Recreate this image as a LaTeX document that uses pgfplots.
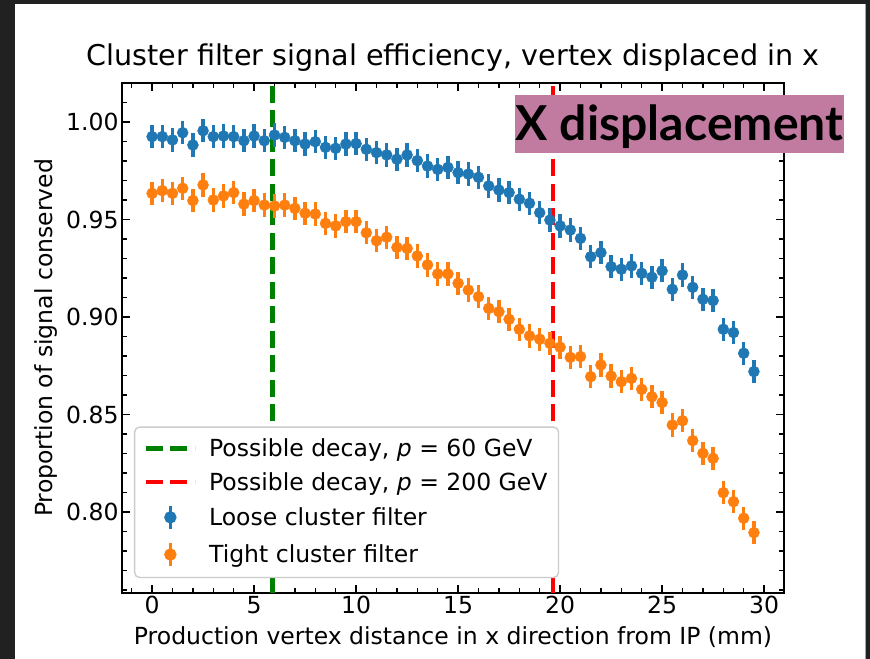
\documentclass[border=0pt]{standalone}
\usepackage{pgfplots}
\pgfplotsset{compat=1.18}
\usepackage{pgfplotstable}
\usepackage{fontspec}
\setmainfont{DejaVu Sans}
\newfontfamily\lato{Lato}

\definecolor{mplblue}{HTML}{1F77B4}
\definecolor{mplorange}{HTML}{FF7F0E}
\definecolor{mplgreen}{HTML}{008000}
\definecolor{mplred}{HTML}{FF0000}
\definecolor{tagpink}{HTML}{C27BA0}
\definecolor{darkframe}{HTML}{212121}
\definecolor{legendedge}{HTML}{CCCCCC}

\pgfplotsset{
  dashlegend/.style={legend image code/.code={\draw[##1] (0bp,0bp) -- (49bp,0bp);}},
  ebarlegend/.style={legend image code/.code={
    \draw[#1, line width=3.5bp] (24.5bp,-11.7bp) -- (24.5bp,11.7bp);
    \fill[#1] (24.5bp,0bp) circle (5.5bp);}},
}

% Loose cluster filter: efficiency vs. x displacement (mm)
\pgfplotstableread{
x    y      e
0    0.9925 0.006
0.5  0.9925 0.006
1    0.9908 0.006
1.5  0.9945 0.006
2    0.9882 0.006
2.5  0.9955 0.006
3    0.9925 0.006
3.5  0.9928 0.006
4    0.9925 0.006
4.5  0.9904 0.006
5    0.9928 0.006
5.5  0.9904 0.006
6    0.9933 0.006
6.5  0.9921 0.006
7    0.9904 0.006
7.5  0.9887 0.006
8    0.9899 0.006
8.5  0.9870 0.006
9    0.9865 0.006
9.5  0.9887 0.006
10   0.9889 0.006
10.5 0.9860 0.006
11   0.9843 0.006
11.5 0.9831 0.006
12   0.9809 0.006
12.5 0.9831 0.006
13   0.9802 0.006
13.5 0.9774 0.006
14   0.9757 0.006
14.5 0.9767 0.006
15   0.9740 0.006
15.5 0.9733 0.006
16   0.9716 0.006
16.5 0.9672 0.006
17   0.9651 0.006
17.5 0.9638 0.006
18   0.9604 0.006
18.5 0.9583 0.006
19   0.9535 0.006
19.5 0.9497 0.006
20   0.9467 0.006
20.5 0.9446 0.006
21   0.9403 0.006
21.5 0.9309 0.006
22   0.9330 0.006
22.5 0.9258 0.006
23   0.9245 0.006
23.5 0.9262 0.006
24   0.9224 0.006
24.5 0.9204 0.006
25   0.9237 0.006
25.5 0.9142 0.006
26   0.9215 0.006
26.5 0.9152 0.006
27   0.9091 0.006
27.5 0.9084 0.006
28   0.8937 0.006
28.5 0.8920 0.006
29   0.8814 0.006
29.5 0.8720 0.006
}\loosetab

% Tight cluster filter
\pgfplotstableread{
x    y      e
0    0.9634 0.006
0.5  0.9648 0.006
1    0.9634 0.006
1.5  0.9660 0.006
2    0.9597 0.006
2.5  0.9677 0.006
3    0.9600 0.006
3.5  0.9621 0.006
4    0.9638 0.006
4.5  0.9579 0.006
5    0.9597 0.006
5.5  0.9574 0.006
6    0.9569 0.006
6.5  0.9574 0.006
7    0.9557 0.006
7.5  0.9532 0.006
8    0.9528 0.006
8.5  0.9480 0.006
9    0.9467 0.006
9.5  0.9489 0.006
10   0.9489 0.006
10.5 0.9432 0.006
11   0.9391 0.006
11.5 0.9409 0.006
12   0.9357 0.006
12.5 0.9352 0.006
13   0.9313 0.006
13.5 0.9267 0.006
14   0.9221 0.006
14.5 0.9221 0.006
15   0.9173 0.006
15.5 0.9138 0.006
16   0.9104 0.006
16.5 0.9044 0.006
17   0.9027 0.006
17.5 0.8988 0.006
18   0.8937 0.006
18.5 0.8903 0.006
19   0.8886 0.006
19.5 0.8865 0.006
20   0.8845 0.006
20.5 0.8793 0.006
21   0.8797 0.006
21.5 0.8694 0.006
22   0.8754 0.006
22.5 0.8697 0.006
23   0.8668 0.006
23.5 0.8685 0.006
24   0.8629 0.006
24.5 0.8591 0.006
25   0.8561 0.006
25.5 0.8446 0.006
26   0.8468 0.006
26.5 0.8366 0.006
27   0.8301 0.006
27.5 0.8275 0.006
28   0.8099 0.006
28.5 0.8053 0.006
29   0.7968 0.006
29.5 0.7894 0.006
}\tighttab

\newcommand{\basefont}{\fontsize{23.6}{28}\selectfont}

\begin{document}
\begin{tikzpicture}[x=1bp,y=1bp]
\fill[white] (0,0) rectangle (870,659);
\path[use as bounding box] (0,0) rectangle (870,659);
\fill[darkframe] (0,0) rectangle (15,659);
\fill[darkframe] (0,655) rectangle (870,659);
\fill[darkframe] (866,0) rectangle (870,659);
\draw[gray!70, line width=0.8bp] (865.4,0) -- (865.4,655);
\begin{axis}[
  at={(122bp,66bp)}, anchor=south west,
  scale only axis, width=662bp, height=510bp,
  xmin=-1.475, xmax=30.975, ymin=0.75846, ymax=1.02,
  xtick={0,5,10,15,20,25,30},
  ytick={0.80,0.85,0.90,0.95,1.00},
  minor xtick={-1,0,...,30},
  minor ytick={0.76,0.77,0.78,0.79,0.81,0.82,0.83,0.84,0.86,0.87,0.88,0.89,0.91,0.92,0.93,0.94,0.96,0.97,0.98,0.99,1.01},
  tick align=inside, xtick pos=both, ytick pos=both,
  major tick length=8.3bp, minor tick length=4.7bp,
  every major tick/.append style={line width=1.9bp, black},
  every minor tick/.append style={line width=1.4bp, black},
  axis line style={line width=1.9bp},
  /pgf/number format/assume math mode=true,
  tick label style={font=\basefont},
  yticklabel style={/pgf/number format/.cd, fixed, fixed zerofill, precision=2},
  title={Cluster filter signal efficiency, vertex displaced in x},
  title style={at={(axis description cs:0.5,1.0216)}, anchor=base, inner sep=0pt, font=\fontsize{28.7}{34}\selectfont},
  xlabel={Production vertex distance in x direction from IP (mm)},
  xlabel style={at={(axis description cs:0.5,-0.1)}, anchor=base, inner sep=0pt, font=\basefont},
  ylabel={Proportion of signal conserved},
  ylabel style={at={(axis description cs:-0.1057,0.5)}, anchor=base, inner sep=0pt, font=\basefont},
  legend cell align=left,
  legend style={
    at={(axis description cs:0.018,0.029)}, anchor=south west,
    draw=legendedge, line width=1.4bp, rounded corners=5bp,
    fill=white, text opacity=1,
    font=\basefont, inner xsep=9bp, inner ysep=9.5bp, row sep=10.3bp,
    /tikz/every odd column/.append style={column sep=10bp},
  },
]
\addplot[mplgreen, line width=4.5bp, dash pattern=on 17bp off 7.5bp, dashlegend]
  coordinates {(5.89,0.75846) (5.89,1.02)};
\addlegendentry{Possible decay, \textit{p} = 60 GeV}
\addplot[mplred, line width=4.5bp, dash pattern=on 17bp off 7.5bp, dashlegend]
  coordinates {(19.64,0.75846) (19.64,1.02)};
\addlegendentry{Possible decay, \textit{p} = 200 GeV}
\addplot[mplblue, only marks, mark=*, mark size=5.5bp,
  mark options={draw=mplblue, fill=mplblue, solid}, ebarlegend=mplblue,
  error bars/.cd, y dir=both, y explicit, error mark=none,
  error bar style={line width=3.5bp, mplblue}]
  table[x=x, y=y, y error=e] {\loosetab};
\addlegendentry{Loose cluster filter}
\addplot[mplorange, only marks, mark=*, mark size=5.5bp,
  mark options={draw=mplorange, fill=mplorange, solid}, ebarlegend=mplorange,
  error bars/.cd, y dir=both, y explicit, error mark=none,
  error bar style={line width=3.5bp, mplorange}]
  table[x=x, y=y, y error=e] {\tighttab};
\addlegendentry{Tight cluster filter}
\end{axis}
% tag in the upper right corner
\fill[tagpink] (515,506) rectangle (844,564);
\node[anchor=base, inner sep=0pt, font=\lato\bfseries\fontsize{48.3}{54}\selectfont, text=black]
  at (679.5,518) {X displacement};
\end{tikzpicture}
\end{document}
